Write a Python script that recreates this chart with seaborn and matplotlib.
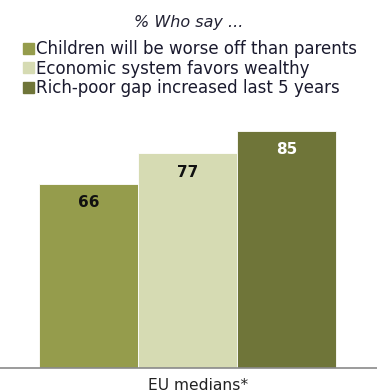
import matplotlib
matplotlib.use("Agg")
import matplotlib.pyplot as plt
import seaborn as sns
import pandas as pd

series = ["Children will be worse off than parents",
          "Economic system favors wealthy",
          "Rich-poor gap increased last 5 years"]
values = [66, 77, 85]
colors = ["#959c4c", "#d6dbb3", "#6f7539"]
label_colors = ["#111111", "#111111", "#ffffff"]
group_label = "EU medians*"
title = "% Who say ..."

sns.set_theme(style="white")
plt.rcParams["font.family"] = ["DejaVu Sans"]

df = pd.DataFrame({"series": series, "value": values})

fig = plt.figure(figsize=(3.77, 3.92), dpi=100)
ax = fig.add_axes([0, (392 - 367.7) / 392, 1, (367.7 - 131) / 392])
sns.barplot(data=df, x="series", y="value", hue="series", palette=colors,
            width=1.0, legend=False, ax=ax, saturation=1, edgecolor="white", linewidth=0.6)

ax.set_xlim(-0.5 - 39 / 99, 2.5 + 41 / 99)
ax.set_ylim(0, 85)
for s in ["top", "left", "right"]:
    ax.spines[s].set_visible(False)
ax.spines["bottom"].set_color("#8a8a8a")
ax.spines["bottom"].set_linewidth(1.2)
ax.set_xticks([])
ax.set_yticks([])
ax.set_xlabel("")
ax.set_ylabel("")

for i, (p, v) in enumerate(zip(ax.patches, values)):
    ax.annotate(f"{v}", (p.get_x() + p.get_width() / 2, p.get_height()),
                xytext=(0, -19), textcoords="offset pixels",
                ha="center", va="center", fontsize=11, fontweight="bold",
                color=label_colors[i])

fig.text(198 / 377, 1 - 385 / 392, group_label, ha="center", va="center",
         fontsize=11.2, color="#222222")
fig.text(189 / 377, 1 - 22 / 392, title, ha="center", va="center",
         fontsize=11.5, style="italic", color="#222233")

handles = [plt.Rectangle((0, 0), 1, 1, color=c) for c in colors]
leg = fig.legend(handles, series, loc="upper left", bbox_to_anchor=(23 / 377, 1 - 40 / 392),
                 frameon=False, fontsize=12, handlelength=0.65, handleheight=0.65,
                 handletextpad=0.12, labelspacing=0.1, borderaxespad=0, borderpad=0)
for t in leg.get_texts():
    t.set_color("#1a1a2e")

fig.savefig("out.png", dpi=100)
